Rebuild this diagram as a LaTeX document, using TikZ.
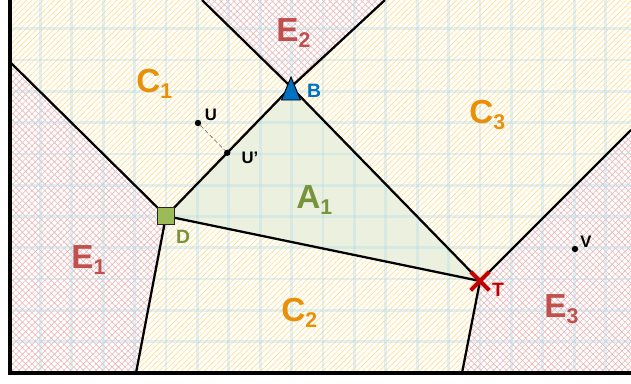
\documentclass[tikz,border=0pt]{standalone}
\usepackage{fontspec}
\setmainfont{Liberation Sans}
\usetikzlibrary{patterns.meta,shapes.misc,calc}
\definecolor{cgold}{HTML}{E8900A}
\definecolor{ered}{HTML}{C0504D}
\definecolor{aolive}{HTML}{77933C}
\definecolor{bblue}{HTML}{0070C0}
\definecolor{tred}{HTML}{C00000}
\definecolor{afill}{HTML}{EBF1DE}
\definecolor{dfill}{HTML}{9BBB59}
\definecolor{gridcyan}{HTML}{B7DDE8}
\definecolor{hatchyel}{HTML}{FFE08A}
\definecolor{hatchred}{HTML}{EBB8B8}
\newcommand{\lsub}[1]{\raisebox{-5pt}{\fontsize{16}{16}\selectfont #1}}

\begin{document}
\begin{tikzpicture}[
  x=0.75pt, y=-0.75pt,
  region/.style={font=\fontsize{25}{25}\selectfont\bfseries, inner sep=0pt, anchor=base west},
  ptlbl/.style={font=\fontsize{14.5}{14.5}\selectfont\bfseries, inner sep=0pt},
  smlbl/.style={font=\fontsize{12.5}{12.5}\selectfont\bfseries, inner sep=0pt},
  cside/.style={pattern={Lines[angle=45,distance=3pt,line width=0.5pt]}, pattern color=hatchyel},
  eside/.style={pattern={Hatch[angle=45,distance=3.4pt,line width=0.45pt]}, pattern color=hatchred},
  gridline/.style={line width=2pt, draw=gridcyan, opacity=0.4},
  edge/.style={line width=1.7pt, draw=black},
  frame/.style={line width=3pt, draw=black},
  dot/.style={circle, fill=black, inner sep=0pt, minimum size=4.8pt},
]
\useasboundingbox (0,0) rectangle (631,383);
\fill[white] (0,0) rectangle (631,383);

% ---- vertices of the partition ----
\coordinate (B)    at (291,87);
\coordinate (D)    at (166,216);
\coordinate (T)    at (480,281);
\coordinate (nwE2) at (202,0);
\coordinate (neE2) at (385,0);
\coordinate (wE1)  at (10,62);
\coordinate (sD)   at (136,373);
\coordinate (sT)   at (462,373);
\coordinate (eT)   at (631,130);

% ---- regions ----
\begin{scope}
  \clip (10,0) rectangle (631,373);
  \fill[cside] (10,0) -- (nwE2) -- (B) -- (D) -- (wE1) -- cycle;
  \fill[cside] (neE2) -- (B) -- (T) -- (eT) -- (631,0) -- cycle;
  \fill[cside] (D) -- (T) -- (sT) -- (sD) -- cycle;
  \fill[eside] (nwE2) -- (B) -- (neE2) -- cycle;
  \fill[eside] (wE1) -- (D) -- (sD) -- (10,373) -- cycle;
  \fill[eside] (T) -- (eT) -- (631,373) -- (sT) -- cycle;
  \fill[afill] (B) -- (D) -- (T) -- cycle;
  % grid
  \foreach \k in {1,...,19}
    \draw[gridline] ({9+31.4*\k},0) -- ({9+31.4*\k},373);
  \foreach \k in {1,...,11}
    \draw[gridline] (10,{373-31.3*\k}) -- (631,{373-31.3*\k});
\end{scope}

% ---- boundaries ----
\draw[edge] (nwE2) -- (B) -- (T) -- (eT);
\draw[edge] (neE2) -- (B) -- (D) -- (wE1);
\draw[edge] (D) -- (T);
\draw[edge] (D) -- (sD);
\draw[edge] (T) -- (sT);
\draw[frame] (10,0) -- (10,373) -- (631,373);

% ---- points ----
\node[dot] (U)  at (198,123) {};
\node[dot] (Up) at ($(D)!0.49!(B)$) {};
\node[dot] (V)  at (575,249) {};
\draw[gray, line width=0.6pt, dash pattern=on 3pt off 2pt] (U) -- (Up);

\draw[fill=bblue, draw=black, line width=0.7pt] ($(B)+(0,-10)$) -- ++(9.5,23) -- ++(-19,0) -- cycle;
\node[rectangle, draw=black!85, fill=dfill, line width=0.8pt, minimum size=12.5pt, inner sep=0pt] (Dm) at (D) {};
\node[cross out, draw=tred, line width=3pt, minimum size=11pt, inner sep=0pt] (Tm) at (T) {};

% ---- labels ----
\node[ptlbl, text=bblue]  (Blbl) at (314,91)  {B};
\node[ptlbl, text=aolive] (Dlbl) at (183,237) {D};
\node[ptlbl, text=tred]   (Tlbl) at (498,290) {T};
\node[smlbl] (Ulbl)  at (211,115) {U};
\node[smlbl] (Uplbl) at (250,158) {U\textquoteright};
\node[smlbl] (Vlbl)  at (586,242) {V};

\node[region, text=cgold]  (C1) at (136,92)  {C\lsub{1}};
\node[region, text=cgold]  (C2) at (281,321) {C\lsub{2}};
\node[region, text=cgold]  (C3) at (469,123) {C\lsub{3}};
\node[region, text=ered]   (E1) at (71,268)  {E\lsub{1}};
\node[region, text=ered]   (E2) at (276,41)  {E\lsub{2}};
\node[region, text=ered]   (E3) at (544,317) {E\lsub{3}};
\node[region, text=aolive] (A1) at (296,208) {A\lsub{1}};
\end{tikzpicture}
\end{document}
